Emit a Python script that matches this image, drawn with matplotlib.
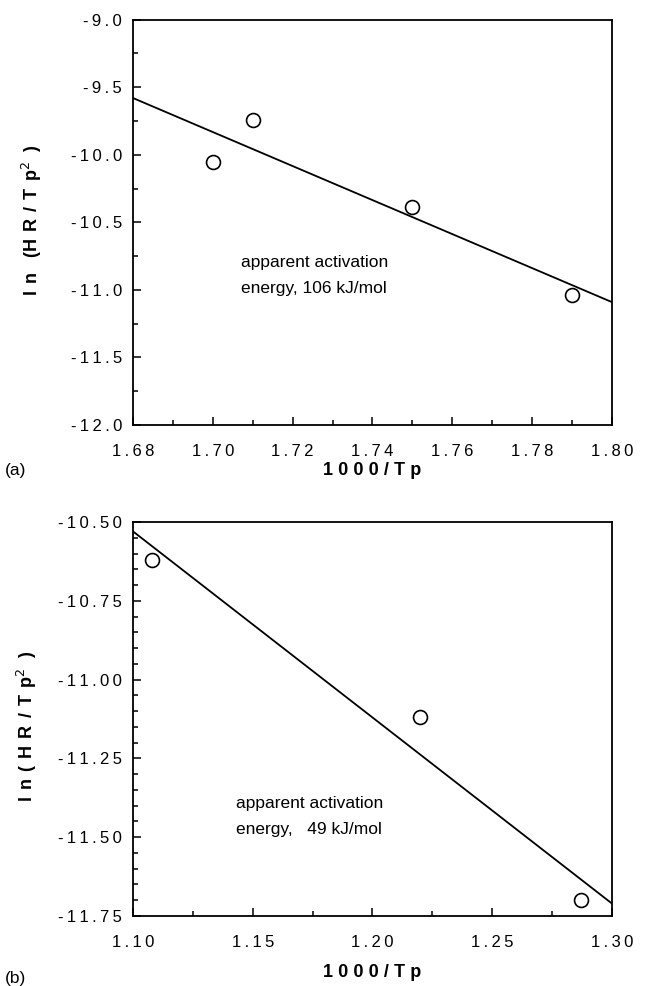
import matplotlib
matplotlib.use("Agg")
import matplotlib.pyplot as plt
from matplotlib.ticker import MultipleLocator, FuncFormatter

plt.rcParams["font.family"] = ["Liberation Sans", "DejaVu Sans"]
plt.rcParams["axes.unicode_minus"] = False

# panel (a) data
a_x = [1.700, 1.710, 1.750, 1.790]
a_y = [-10.05, -9.74, -10.39, -11.04]
a_fit_x = [1.68, 1.80]
a_fit_y = [-9.58, -11.09]

# panel (b) data
b_x = [1.108, 1.220, 1.287]
b_y = [-10.62, -11.12, -11.70]
b_fit_x = [1.10, 1.30]
b_fit_y = [-10.53, -11.71]

TS = "\u2009"  # thin space, the original has wide letter spacing
TS2 = TS + TS
XSEP = TS + "\u200a"


def spaced(s, sep=TS):
    return sep.join(s)


def fmt(nd):
    return FuncFormatter(lambda v, pos: spaced(f"{v:.{nd}f}"))


fig = plt.figure(figsize=(6.46, 9.86), dpi=100)
ax1 = fig.add_axes([0.206, 0.569, 0.741, 0.411])
ax2 = fig.add_axes([0.206, 0.071, 0.741, 0.3996])


def style(ax):
    for s in ax.spines.values():
        s.set_linewidth(1.3)
    ax.tick_params(which="both", direction="in", top=False, right=False,
                   labelsize=12, width=1.1)
    ax.tick_params(axis="y", pad=8)
    ax.tick_params(axis="x", pad=14)
    ax.tick_params(which="major", length=6)
    ax.tick_params(which="minor", length=3.5)


ax1.plot(a_fit_x, a_fit_y, color="black", lw=1.3)
ax1.plot(a_x, a_y, "o", mfc="white", mec="black", ms=10, mew=1.2)
ax1.set_xlim(1.68, 1.80)
ax1.set_ylim(-12.0, -9.0)
ax1.xaxis.set_major_locator(MultipleLocator(0.02))
ax1.xaxis.set_minor_locator(MultipleLocator(0.01))
ax1.yaxis.set_major_locator(MultipleLocator(0.5))
ax1.yaxis.set_minor_locator(MultipleLocator(0.25))
ax1.xaxis.set_major_formatter(fmt(2))
ax1.yaxis.set_major_formatter(fmt(1))
style(ax1)
ax1.set_xlabel(spaced("1000/Tp", XSEP), fontsize=13, fontweight="bold")
ax1.xaxis.set_label_coords(0.5, -0.092)
ax1.set_ylabel(spaced("ln", TS2) + "   (" + spaced("HR/Tp", TS2) + "$^{2}$  )",
               fontsize=13, fontweight="bold")
ax1.yaxis.set_label_coords(-0.186, 0.506)
ax1.text(1.707, -10.74, "apparent activation\nenergy, 106 kJ/mol",
         fontsize=12.5, va="top", linespacing=1.95)
fig.text(0.008, 0.518, "(a)", fontsize=12.5)

ax2.plot(b_fit_x, b_fit_y, color="black", lw=1.3)
ax2.plot(b_x, b_y, "o", mfc="white", mec="black", ms=10, mew=1.2)
ax2.set_xlim(1.10, 1.30)
ax2.set_ylim(-11.75, -10.50)
ax2.xaxis.set_major_locator(MultipleLocator(0.05))
ax2.xaxis.set_minor_locator(MultipleLocator(0.025))
ax2.yaxis.set_major_locator(MultipleLocator(0.25))
ax2.yaxis.set_minor_locator(MultipleLocator(0.05))
ax2.xaxis.set_major_formatter(fmt(2))
ax2.yaxis.set_major_formatter(fmt(2))
style(ax2)
ax2.set_xlabel(spaced("1000/Tp", XSEP), fontsize=13, fontweight="bold")
ax2.xaxis.set_label_coords(0.5, -0.122)
ax2.set_ylabel(spaced("ln(HR/Tp", TS2) + "$^{2}$  )",
               fontsize=13, fontweight="bold")
ax2.yaxis.set_label_coords(-0.197, 0.48)
ax2.text(1.143, -11.37, "apparent activation\nenergy,   49 kJ/mol",
         fontsize=12.5, va="top", linespacing=1.9)
fig.text(0.008, 0.003, "(b)", fontsize=12.5)

fig.savefig("out.png", dpi=100, facecolor="white")
